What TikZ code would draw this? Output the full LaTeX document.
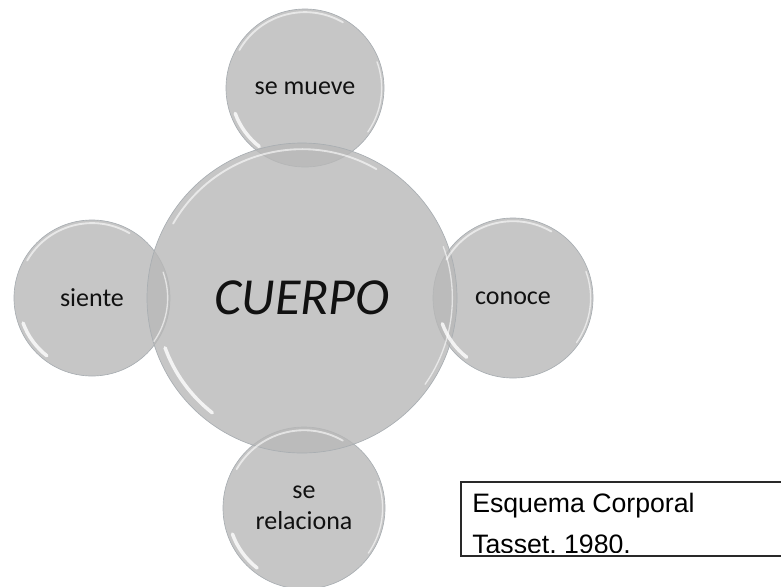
\documentclass[tikz,border=0pt]{standalone}
\usepackage{fontspec}
\setmainfont{Carlito}
\newfontfamily\arialfont{Liberation Sans}
\usetikzlibrary{positioning}
\definecolor{bub}{HTML}{B8B8B8}
\definecolor{bubrim}{HTML}{A9AEB2}
\definecolor{ink}{HTML}{111111}
\tikzset{bubble/.style={circle,fill=bub,fill opacity=0.8,text opacity=1,draw=bubrim,line width=0.5pt,
    inner sep=0pt,align=center,text=ink,font=\fontsize{19.5}{23}\selectfont},
  shine/.style={white,line width=1.4pt,opacity=0.6,line cap=round},
  frame/.style={draw=ink!90,line width=1.2pt,inner sep=0pt,anchor=north west}}
% highlights on the rim of a bubble: name, radius
\newcommand{\bubShine}[2]{\draw[shine]([shift={(-150:#2*0.96)}]#1.center)arc(-150:-60:#2*0.96);
  \draw[shine,line width=2.6pt,opacity=0.8]([shift={(160:#2*0.94)}]#1.center)arc(160:128:#2*0.94);
  \draw[shine,line width=1pt]([shift={(-20:#2*0.97)}]#1.center)arc(-20:35:#2*0.97);}

\begin{document}
\begin{tikzpicture}[x=0.75pt,y=-0.75pt]
  \useasboundingbox(0,0)rectangle(781,586);
  \node[bubble,minimum size=118.5pt](mueve)at(305,88){se mueve};
  \node[bubble,minimum size=117pt](siente)at(92,298){siente};
  \node[bubble,minimum size=120pt](conoce)at(513,298){conoce};
  \node[bubble,minimum size=121.5pt](relaciona)at(304,508){se\\relaciona};
  \node[bubble,minimum size=232.5pt,font=\fontsize{39}{44}\selectfont\itshape](cuerpo)at(302,298){CUERPO};
  \bubShine{mueve}{79}\bubShine{siente}{78}\bubShine{conoce}{80}\bubShine{relaciona}{81}
  \bubShine{cuerpo}{155}
  % source box, open to the right and cut at the bottom
  \node[frame,minimum width=255pt,minimum height=55.5pt](marco)at(460,481){};
  \begin{scope}
    \clip(marco.north west)rectangle([yshift=3pt]marco.south east);
    \node[anchor=north west,align=left,inner sep=0pt,font=\arialfont\fontsize{20}{27.75}\selectfont]
      (fuente)at(472,493){Esquema Corporal\\[3pt]Tasset, 1980.};
  \end{scope}
\end{tikzpicture}
\end{document}
